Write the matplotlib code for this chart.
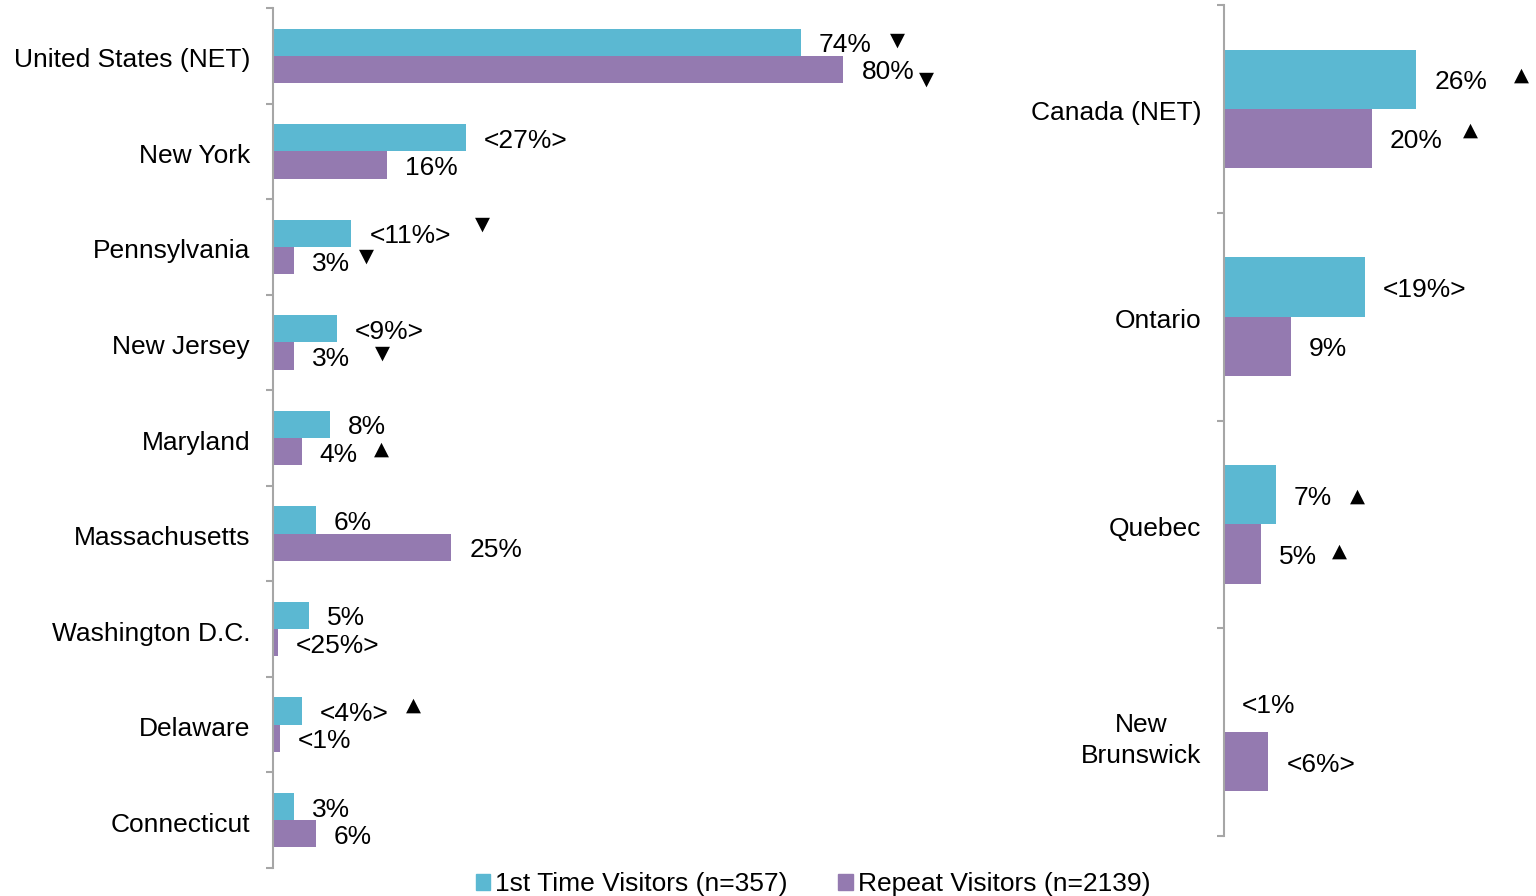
import matplotlib.pyplot as plt
from matplotlib.patches import Patch
from matplotlib.transforms import ScaledTranslation

plt.rcParams['font.family'] = ['Liberation Sans', 'DejaVu Sans']

CYAN = '#5bb8d2'
PURPLE = '#947ab0'
AXIS = '#a6a6a6'

us_states = ["United States (NET)", "New York", "Pennsylvania", "New Jersey", "Maryland",
             "Massachusetts", "Washington D.C.", "Delaware", "Connecticut"]
us_first = [74, 27, 11, 9, 8, 6, 5, 4, 3]
us_repeat = [80, 16, 3, 3, 4, 25, 0.7, 1, 6]
us_first_labels = ["74%", "<27%>", "<11%>", "<9%>", "8%", "6%", "5%", "<4%>", "3%"]
us_repeat_labels = ["80%", "16%", "3%", "3%", "4%", "25%", "<25%>", "<1%", "6%"]
us_first_sig = ["▼", "", "▼", "", "", "", "", "▲", ""]
us_repeat_sig = ["▼", "", "▼", "▼", "▲", "", "", "", ""]

ca_provinces = ["Canada (NET)", "Ontario", "Quebec", "New\nBrunswick"]
ca_first = [26, 19, 7, 0]
ca_repeat = [20, 9, 5, 6]
ca_first_labels = ["26%", "<19%>", "7%", "<1%"]
ca_repeat_labels = ["20%", "9%", "5%", "<6%>"]
ca_first_sig = ["▲", "", "▲", ""]
ca_repeat_sig = ["▲", "", "▲", ""]

# where each arrow sits, pixels from the end of its bar (dx, dy)
us_first_off = [(97, 2), None, (131, 9), None, None, None, None, (112, 6), None]
us_repeat_off = [(83, -10), None, (72, 4), (88, 3), (80, 2), None, None, None, None]
ca_first_off = [(105, 4), None, (82, -1), None]
ca_repeat_off = [(98, 8), None, (78, 3), None]

BAR_H = 0.285


def draw_panel(fig, ax, cats, first, repeat, first_lab, repeat_lab,
               first_sig, repeat_sig, first_off, repeat_off, xmax):
    n = len(cats)
    pos = list(range(n))
    y1 = [p - BAR_H / 2 for p in pos]
    y2 = [p + BAR_H / 2 for p in pos]
    ax.barh(y1, first, height=BAR_H, color=CYAN, linewidth=0)
    ax.barh(y2, repeat, height=BAR_H, color=PURPLE, linewidth=0)

    for vals, ys, labs, sigs, offs in [(first, y1, first_lab, first_sig, first_off),
                                       (repeat, y2, repeat_lab, repeat_sig, repeat_off)]:
        for v, y, lab, sig, off in zip(vals, ys, labs, sigs, offs):
            ax.annotate(lab, xy=(v, y), xytext=(18, -3), textcoords='offset pixels',
                        ha='left', va='center', fontsize=19, color='black')
            if sig:
                ax.annotate(sig, xy=(v, y), xytext=off, textcoords='offset pixels',
                            ha='center', va='center', fontsize=14, color='black',
                            family='DejaVu Sans', annotation_clip=False)

    ax.set_xlim(0, xmax)
    ax.set_ylim(n - 0.5, -0.5)
    ax.set_yticks(pos)
    ax.set_yticklabels(cats, fontsize=19, linespacing=1.4)
    ax.set_yticks([p - 0.5 for p in range(n + 1)], minor=True)
    ax.tick_params(axis='y', which='major', length=0, pad=16.5)
    ax.tick_params(axis='y', which='minor', length=5, width=1.5, color=AXIS)
    ax.set_xticks([])
    shift = ScaledTranslation(0, -2 / 100, fig.dpi_scale_trans)
    for lab in ax.get_yticklabels():
        lab.set_transform(lab.get_transform() + shift)
    for s in ['top', 'right', 'bottom']:
        ax.spines[s].set_visible(False)
    ax.spines['left'].set_color(AXIS)
    ax.spines['left'].set_linewidth(1.5)


fig = plt.figure(figsize=(15.36, 8.96), dpi=100)
ax1 = fig.add_axes([273 / 1536, 28 / 896, 713 / 1536, 860 / 896])
ax2 = fig.add_axes([1224 / 1536, 60 / 896, 296 / 1536, 831 / 896])

draw_panel(fig, ax1, us_states, us_first, us_repeat, us_first_labels, us_repeat_labels,
           us_first_sig, us_repeat_sig, us_first_off, us_repeat_off, 100)
draw_panel(fig, ax2, ca_provinces, ca_first, ca_repeat, ca_first_labels, ca_repeat_labels,
           ca_first_sig, ca_repeat_sig, ca_first_off, ca_repeat_off, 40)
ax2.get_yticklabels()[-1].set_multialignment('center')

handles = [Patch(color=CYAN, label='1st Time Visitors (n=357)'),
           Patch(color=PURPLE, label='Repeat Visitors (n=2139)')]
fig.legend(handles=handles, loc='center', bbox_to_anchor=(813 / 1536, 12 / 896),
           ncol=2, frameon=False, fontsize=19, handlelength=0.55, handleheight=0.55,
           handletextpad=0.2, columnspacing=1.9, borderpad=0, borderaxespad=0)

fig.savefig('out.png', dpi=100)
